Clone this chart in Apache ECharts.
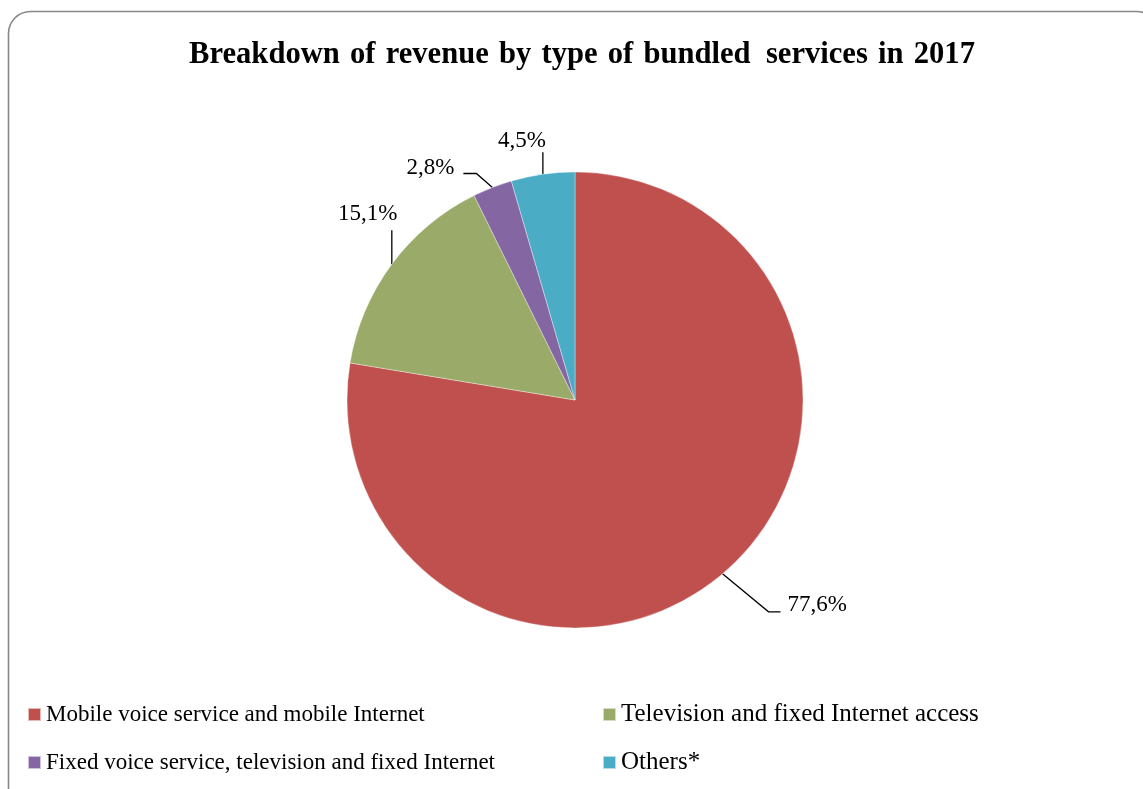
<!DOCTYPE html>
<html>
<head>
<meta charset="utf-8">
<style>
  html, body { margin: 0; padding: 0; background: #fff; }
  #chart { width: 1143px; height: 789px; }
</style>
<script src="https://cdn.jsdelivr.net/npm/echarts@6/dist/echarts.min.js"></script>
</head>
<body>
<div id="chart"></div>
<script>
// Revenue shares of bundled services, 2017 (%)
const categories = [
  'Mobile voice service and mobile Internet',
  'Television and fixed Internet access',
  'Fixed voice service, television and fixed Internet',
  'Others*'
];
const shares = [77.6, 15.1, 2.8, 4.5];
const sliceColors = ['#C0504D', '#9AAA68', '#8467A2', '#4BACC6'];

// Title words; joined with wide spaces so the heading spreads like a justified line
const titleText = 'Breakdown\u2004of\u2004revenue\u2004by\u2004type\u2004of\u2004bundled\u2002services\u2004in\u20042017';

// Leader-line shape per slice, as offsets from the slice's outer edge point:
// bend = first segment end, tail = horizontal run, text = label offset from line end.
const leader = [
  { bend: [46, 38], tail: 12, text: [7, -7], align: 'left' },
  { bend: [0, -34], tail: 0, text: [-24, -16], align: 'center' },
  { bend: [-16, -14], tail: -13, text: [-9, -6], align: 'right' },
  { bend: [0, -22], tail: 0, text: [-21, -11], align: 'center' }
];

// Legend grid: two columns, two rows (right column set slightly larger)
const legendSlots = [
  { left: 27, top: 701, size: 23 },
  { left: 602, top: 701, size: 25 },
  { left: 27, top: 749, size: 23 },
  { left: 602, top: 749, size: 25 }
];

const serif = '"Liberation Serif", "Times New Roman", serif';
const chart = echarts.init(document.getElementById('chart'), null, { renderer: 'canvas' });

chart.setOption({
  backgroundColor: '#fff',
  animation: false,
  color: sliceColors,
  graphic: [{
    type: 'rect',
    shape: { x: 8.5, y: 11.5, width: 1150, height: 800, r: 22 },
    style: { fill: 'none', stroke: '#888', lineWidth: 1.6 },
    silent: true,
    z: -1
  }],
  title: {
    text: titleText,
    left: 577,
    textAlign: 'center',
    top: 35,
    textStyle: { fontFamily: serif, fontWeight: 'bold', fontSize: 30.6, color: '#000' }
  },
  legend: categories.map((name, i) => ({
    left: legendSlots[i].left,
    top: legendSlots[i].top,
    padding: 0,
    orient: 'horizontal',
    itemWidth: 13,
    itemHeight: 13,
    icon: 'rect',
    data: [name],
    selectedMode: false,
    textStyle: {
      fontFamily: serif,
      fontSize: legendSlots[i].size,
      color: '#000',
      lineHeight: 27
    }
  })),
  series: [{
    type: 'pie',
    center: [575, 400],
    radius: 228,
    startAngle: 90,
    clockwise: true,
    avoidLabelOverlap: false,
    itemStyle: { borderColor: 'rgba(255,255,255,0.6)', borderWidth: 0.6 },
    data: categories.map((name, i) => ({ name: name, value: shares[i] })),
    label: {
      show: true,
      fontFamily: serif,
      fontSize: 23,
      color: '#000',
      formatter: p => p.value.toFixed(1).replace('.', ',') + '%'
    },
    labelLine: {
      show: true,
      length: 20,
      length2: 10,
      lineStyle: { color: '#000', width: 1.3 }
    },
    labelLayout: function (params) {
      const pts = params.labelLinePoints;
      if (!pts) return {};
      const s = leader[params.dataIndex];
      const a = pts[0];
      const b = [a[0] + s.bend[0], a[1] + s.bend[1]];
      const c = [b[0] + s.tail, b[1]];
      return {
        x: c[0] + s.text[0],
        y: c[1] + s.text[1],
        align: s.align,
        verticalAlign: 'middle',
        labelLinePoints: [a, b, c]
      };
    }
  }]
});
</script>
</body>
</html>
